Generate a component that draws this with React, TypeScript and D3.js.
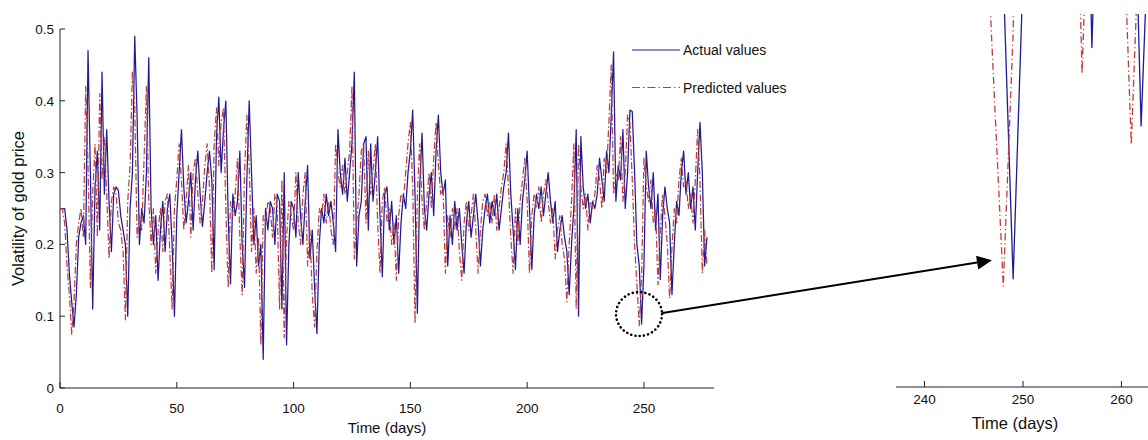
import React from "react";
import * as d3 from "d3";

// daily volatility, day 0 .. 277
const actualValues = [
  0.25, 0.25, 0.25, 0.22, 0.16, 0.12, 0.085, 0.13, 0.21, 0.23,
  0.24, 0.2, 0.47, 0.3, 0.11, 0.28, 0.33, 0.22, 0.44, 0.27,
  0.36, 0.26, 0.19, 0.27, 0.28, 0.275, 0.24, 0.22, 0.2, 0.1,
  0.25, 0.3, 0.49, 0.38, 0.2, 0.25, 0.23, 0.3, 0.46, 0.25,
  0.2, 0.24, 0.15, 0.22, 0.26, 0.19, 0.25, 0.27, 0.2, 0.1,
  0.24, 0.3, 0.36, 0.28, 0.23, 0.26, 0.3, 0.22, 0.29, 0.33,
  0.27, 0.225, 0.26, 0.3, 0.33, 0.29, 0.165, 0.35, 0.405, 0.3,
  0.36, 0.4, 0.24, 0.145, 0.27, 0.24, 0.26, 0.33, 0.2, 0.14,
  0.29, 0.4, 0.3, 0.2, 0.24, 0.17, 0.2, 0.04, 0.25, 0.22,
  0.26, 0.25, 0.2, 0.27, 0.26, 0.11, 0.3, 0.06, 0.2, 0.26,
  0.25, 0.21, 0.3, 0.24, 0.2, 0.26, 0.31, 0.18, 0.22, 0.14,
  0.076, 0.2, 0.25, 0.23, 0.27, 0.24, 0.26, 0.23, 0.19, 0.36,
  0.3, 0.27, 0.32, 0.26, 0.3, 0.34, 0.44, 0.17, 0.24, 0.26,
  0.34, 0.35, 0.22, 0.34, 0.26, 0.3, 0.35, 0.24, 0.155, 0.27,
  0.28, 0.22, 0.26, 0.2, 0.24, 0.16, 0.23, 0.27, 0.25, 0.3,
  0.33, 0.387, 0.27, 0.104, 0.28, 0.355, 0.25, 0.22, 0.27, 0.3,
  0.24, 0.33, 0.38, 0.3, 0.27, 0.29, 0.17, 0.24, 0.2, 0.26,
  0.22, 0.25, 0.2, 0.16, 0.23, 0.26, 0.21, 0.24, 0.27, 0.23,
  0.17, 0.22, 0.25, 0.27, 0.23, 0.26, 0.24, 0.27, 0.22, 0.25,
  0.28, 0.3, 0.355, 0.27, 0.22, 0.165, 0.25, 0.2, 0.26, 0.29,
  0.33, 0.25, 0.165, 0.24, 0.27, 0.25, 0.28, 0.24, 0.27, 0.3,
  0.26, 0.23, 0.26, 0.19, 0.22, 0.24, 0.21, 0.19, 0.13, 0.2,
  0.25, 0.36, 0.1, 0.35, 0.28, 0.25, 0.27, 0.23, 0.26, 0.25,
  0.27, 0.32, 0.29, 0.26, 0.33, 0.3, 0.38, 0.468, 0.26, 0.31,
  0.29, 0.36, 0.25, 0.3, 0.387, 0.385, 0.3, 0.2, 0.17, 0.089,
  0.17, 0.33, 0.28, 0.25, 0.3, 0.22, 0.27, 0.151, 0.24, 0.28,
  0.25, 0.23, 0.13, 0.2, 0.26, 0.24, 0.3, 0.33, 0.27, 0.3,
  0.25, 0.28, 0.22, 0.3, 0.37, 0.3, 0.17, 0.21,
];

const predictedValues = [
  0.25, 0.25, 0.23, 0.17, 0.13, 0.075, 0.12, 0.2, 0.23, 0.25,
  0.21, 0.42, 0.31, 0.14, 0.27, 0.34, 0.21, 0.41, 0.29, 0.35,
  0.27, 0.18, 0.26, 0.28, 0.27, 0.23, 0.22, 0.19, 0.095, 0.26,
  0.31, 0.44, 0.39, 0.21, 0.24, 0.22, 0.32, 0.42, 0.26, 0.2,
  0.25, 0.16, 0.22, 0.25, 0.19, 0.26, 0.27, 0.19, 0.11, 0.25,
  0.29, 0.34, 0.29, 0.22, 0.26, 0.31, 0.21, 0.3, 0.32, 0.27,
  0.23, 0.26, 0.31, 0.34, 0.28, 0.16, 0.34, 0.39, 0.31, 0.37,
  0.39, 0.25, 0.14, 0.26, 0.24, 0.27, 0.32, 0.21, 0.13, 0.3,
  0.38, 0.31, 0.19, 0.25, 0.16, 0.21, 0.06, 0.24, 0.23, 0.26,
  0.25, 0.21, 0.27, 0.25, 0.11, 0.29, 0.07, 0.21, 0.26, 0.24,
  0.22, 0.3, 0.23, 0.2, 0.27, 0.3, 0.17, 0.22, 0.13, 0.085,
  0.19, 0.25, 0.24, 0.27, 0.23, 0.26, 0.22, 0.2, 0.34, 0.3,
  0.28, 0.31, 0.27, 0.3, 0.33, 0.42, 0.18, 0.23, 0.27, 0.33,
  0.34, 0.23, 0.33, 0.27, 0.3, 0.34, 0.23, 0.16, 0.26, 0.28,
  0.23, 0.25, 0.2, 0.23, 0.15, 0.24, 0.27, 0.26, 0.3, 0.34,
  0.37, 0.28, 0.09, 0.27, 0.34, 0.26, 0.22, 0.26, 0.3, 0.25,
  0.32, 0.37, 0.31, 0.27, 0.28, 0.16, 0.24, 0.21, 0.25, 0.22,
  0.25, 0.19, 0.15, 0.23, 0.26, 0.22, 0.24, 0.27, 0.22, 0.16,
  0.22, 0.26, 0.27, 0.24, 0.26, 0.23, 0.27, 0.22, 0.25, 0.28,
  0.3, 0.34, 0.28, 0.21, 0.16, 0.25, 0.2, 0.26, 0.29, 0.32,
  0.26, 0.16, 0.24, 0.27, 0.25, 0.28, 0.23, 0.27, 0.29, 0.26,
  0.23, 0.25, 0.18, 0.22, 0.24, 0.2, 0.18, 0.12, 0.2, 0.26,
  0.34, 0.11, 0.34, 0.28, 0.25, 0.27, 0.22, 0.26, 0.25, 0.27,
  0.31, 0.29, 0.25, 0.32, 0.3, 0.37, 0.45, 0.27, 0.3, 0.29,
  0.35, 0.26, 0.3, 0.38, 0.37, 0.29, 0.2, 0.143, 0.087, 0.155,
  0.32, 0.28, 0.26, 0.29, 0.23, 0.25, 0.144, 0.22, 0.27, 0.24,
  0.2, 0.125, 0.195, 0.25, 0.23, 0.29, 0.32, 0.28, 0.29, 0.25,
  0.27, 0.23, 0.29, 0.36, 0.29, 0.16, 0.22, 0.17,
];

const mainXTicks = [0, 50, 100, 150, 200, 250];
const mainYTicks = [0, 0.1, 0.2, 0.3, 0.4, 0.5];
const zoomXTicks = [240, 250, 260];
const seriesNames = ["Actual values", "Predicted values"];

// the circled spot and where the arrow lands in the zoom
const focusDay = 247.9;
const focusValue = 0.103;
const arrowDay = 246.85;
const arrowValue = 0.094;

const FONT = "'Liberation Sans', Arial, Helvetica, sans-serif";
const BLUE = "#1c1c98";
const RED = "#c23c3c";

const App: React.FC = () => {
  const x = d3.scaleLinear().domain([0, 280]).range([60, 714]);
  const y = d3.scaleLinear().domain([0, 0.5]).range([388, 29]);
  const xz = d3.scaleLinear().domain([237.1, 262.7]).range([896, 1148]);
  const yz = d3.scaleLinear().domain([0.06, 0.16]).range([387, 14]);

  const mainLine = d3
    .line<number>()
    .x((_, i) => x(i))
    .y((d) => y(d));
  const zoomLine = d3
    .line<number>()
    .x((_, i) => xz(i))
    .y((d) => yz(d));

  const cx = x(focusDay);
  const cy = y(focusValue);
  const ax = xz(arrowDay);
  const ay = yz(arrowValue);
  const sx = cx + 23.5;
  const sy = cy - 1;
  const ang = Math.atan2(ay - sy, ax - sx);
  const headL = 15;
  const headW = 7;
  const bx = ax - headL * Math.cos(ang);
  const by = ay - headL * Math.sin(ang);
  const head = [
    [ax, ay],
    [bx + headW * Math.sin(ang), by - headW * Math.cos(ang)],
    [bx - headW * Math.sin(ang), by + headW * Math.cos(ang)],
  ]
    .map((p) => p.join(","))
    .join(" ");

  return (
    <svg
      width={1148}
      height={440}
      style={{ position: "absolute", left: 0, top: 0, background: "#fff" }}
      fontFamily={FONT}
    >
      <defs>
        <clipPath id="zoomClip">
          <rect x={896} y={14} width={252} height={373} />
        </clipPath>
      </defs>

      {/* main panel data */}
      <g fill="none" strokeLinejoin="round">
        <path d={mainLine(actualValues) ?? ""} stroke={BLUE} strokeWidth={1.25} />
        <path
          d={mainLine(predictedValues) ?? ""}
          stroke={RED}
          strokeWidth={1.25}
          strokeDasharray="7,2.5,1.5,2.5"
        />
      </g>

      {/* main axes */}
      <g stroke="#222" strokeWidth={1} fill="none">
        <line x1={x(0)} x2={x(0)} y1={y(0)} y2={y(0.5)} />
        <line x1={x(0)} x2={x(280)} y1={y(0)} y2={y(0)} />
        {mainYTicks.map((t) => (
          <line key={t} x1={x(0)} x2={x(0) + 5} y1={y(t)} y2={y(t)} />
        ))}
        {mainXTicks.map((t) => (
          <line key={t} x1={x(t)} x2={x(t)} y1={y(0)} y2={y(0) - 6} />
        ))}
      </g>
      <g fontSize={13.5} fill="#111">
        {mainYTicks.map((t) => (
          <text key={t} x={x(0) - 6} y={y(t) + 5} textAnchor="end">
            {t === 0 ? "0" : t.toFixed(1)}
          </text>
        ))}
        {mainXTicks.map((t) => (
          <text key={t} x={x(t)} y={413} textAnchor="middle">
            {t}
          </text>
        ))}
      </g>
      <text x={x(140)} y={433} fontSize={15} textAnchor="middle" fill="#111">
        Time (days)
      </text>
      <text
        transform={`translate(24,${y(0.25)}) rotate(-90)`}
        fontSize={16.5}
        textAnchor="middle"
        fill="#111"
      >
        Volatility of gold price
      </text>

      {/* legend */}
      <g fontSize={14} fill="#111">
        <line x1={632} x2={680} y1={50} y2={50} stroke={BLUE} strokeWidth={1.2} />
        <text x={683} y={55}>{seriesNames[0]}</text>
        <line
          x1={632}
          x2={680}
          y1={87.5}
          y2={87.5}
          stroke={RED}
          strokeWidth={1.2}
          strokeDasharray="8,3,1.5,3"
        />
        <text x={683} y={92.5}>{seriesNames[1]}</text>
      </g>

      {/* dotted circle and arrow */}
      <ellipse
        cx={cx}
        cy={cy}
        rx={23}
        ry={22}
        fill="none"
        stroke="#000"
        strokeWidth={2.6}
        strokeDasharray="0.1,4.2"
        strokeLinecap="round"
      />
      <line x1={sx} y1={sy} x2={bx} y2={by} stroke="#000" strokeWidth={2} />
      <polygon points={head} fill="#000" />

      {/* zoomed panel */}
      <g clipPath="url(#zoomClip)" fill="none" strokeLinejoin="round">
        <path d={zoomLine(actualValues) ?? ""} stroke={BLUE} strokeWidth={1.3} />
        <path
          d={zoomLine(predictedValues) ?? ""}
          stroke={RED}
          strokeWidth={1.3}
          strokeDasharray="7,3,1.2,3"
        />
      </g>
      <g stroke="#222" strokeWidth={1}>
        <line x1={896} x2={1148} y1={yz(0.06)} y2={yz(0.06)} />
        {zoomXTicks.map((t) => (
          <line key={t} x1={xz(t)} x2={xz(t)} y1={yz(0.06)} y2={yz(0.06) - 6} />
        ))}
      </g>
      <g fontSize={13.5} fill="#111">
        {zoomXTicks.map((t) => (
          <text key={t} x={xz(t)} y={404} textAnchor="middle">
            {t}
          </text>
        ))}
      </g>
      <text x={xz(249.2)} y={429} fontSize={16.5} textAnchor="middle" fill="#111">
        Time (days)
      </text>
    </svg>
  );
};

export default App;
